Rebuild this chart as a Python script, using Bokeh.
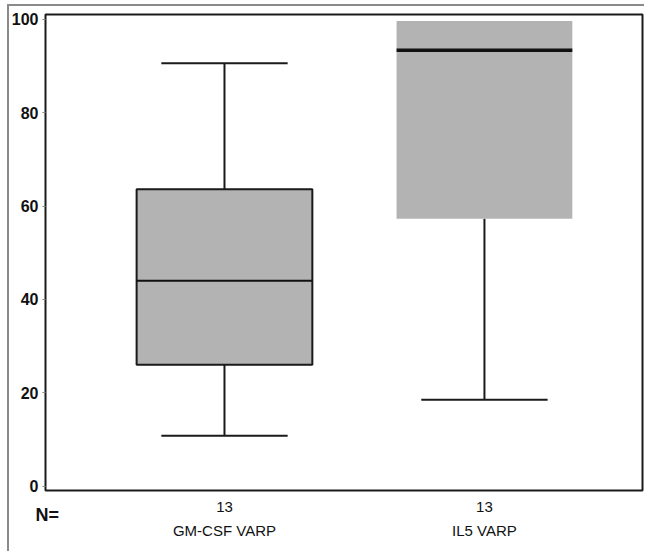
from bokeh.plotting import figure
from bokeh.models import FixedTicker, LinearAxis, Label, Range1d, ColumnDataSource
from bokeh.embed import file_html
from bokeh.resources import INLINE

categories = ["GM-CSF VARP", "IL5 VARP"]
n_values = [13, 13]
lower_whisker = [10.8, 18.5]
q1 = [26.0, 57.3]
median = [44.0, 93.4]
q3 = [63.6, 99.7]
upper_whisker = [90.6, 99.7]
y_ticks = [0, 20, 40, 60, 80, 100]

xs = [i + 1 for i in range(len(categories))]
box_half = 0.338
cap_half = 0.243
FONT = "Liberation Sans"

frame_css = {
    "background-color": "white",
    "background-image": "linear-gradient(#8a8a8a,#8a8a8a), linear-gradient(#8a8a8a,#8a8a8a)",
    "background-size": "100% 2px, 2px 100%",
    "background-position": "7px 4px, 7px 4px",
    "background-repeat": "no-repeat",
}

p = figure(width=644, height=551,
           x_range=Range1d(0.3115, 2.608), y_range=Range1d(-0.96, 101.07),
           output_backend="svg", toolbar_location=None,
           min_border_left=45, min_border_top=14, min_border_right=2, min_border_bottom=61,
           styles=frame_css)
p.grid.visible = False
p.outline_line_color = "#1a1a1a"
p.outline_line_width = 2
p.background_fill_color = "white"
p.border_fill_color = None

src = ColumnDataSource(dict(
    x=xs,
    left=[x - box_half for x in xs],
    right=[x + box_half for x in xs],
    q1=q1, q3=q3, med=median, lo=lower_whisker, hi=upper_whisker,
    line_alpha=[1.0, 0.0],
    med_w=[2, 3.5],
))

# whiskers
p.segment(x0="x", y0="q3", x1="x", y1="hi", source=src, line_color="#1a1a1a", line_width=2)
p.segment(x0="x", y0="q1", x1="x", y1="lo", source=src, line_color="#1a1a1a", line_width=2)
# boxes
p.quad(left="left", right="right", bottom="q1", top="q3", source=src,
       fill_color="#b3b3b3", line_color="#1a1a1a", line_width=2, line_alpha="line_alpha")
# medians
p.segment(x0="left", y0="med", x1="right", y1="med", source=src, line_color="#111111", line_width="med_w")
# caps
p.segment(x0=[x - cap_half for x in xs], y0=lower_whisker, x1=[x + cap_half for x in xs], y1=lower_whisker,
          line_color="#1a1a1a", line_width=2)
up_x = [x for x, h, t in zip(xs, upper_whisker, q3) if h > t]
up_y = [h for h, t in zip(upper_whisker, q3) if h > t]
p.segment(x0=[x - cap_half for x in up_x], y0=up_y, x1=[x + cap_half for x in up_x], y1=up_y,
          line_color="#1a1a1a", line_width=2)

# y axis
p.yaxis.ticker = FixedTicker(ticks=y_ticks)
p.yaxis.axis_line_color = None
p.yaxis.major_tick_out = 3
p.yaxis.major_tick_in = 0
p.yaxis.major_tick_line_color = "#888888"
p.yaxis.minor_tick_line_color = None
p.yaxis.major_label_text_font = FONT
p.yaxis.major_label_text_font_style = "bold"
p.yaxis.major_label_text_font_size = "16px"
p.yaxis.major_label_text_color = "#111111"
p.yaxis.major_label_standoff = 4

# x axis: N values
xa = p.xaxis[0]
xa.ticker = FixedTicker(ticks=xs)
xa.major_label_overrides = {x: str(n) for x, n in zip(xs, n_values)}
xa.axis_line_color = None
xa.major_tick_line_color = None
xa.minor_tick_line_color = None
xa.major_tick_out = 0
xa.major_label_standoff = -9
xa.major_label_text_font = FONT
xa.major_label_text_font_size = "15px"
xa.major_label_text_color = "#111111"

# x axis: category names
xb = LinearAxis(ticker=FixedTicker(ticks=xs),
                major_label_overrides={x: c for x, c in zip(xs, categories)})
xb.axis_line_color = None
xb.major_tick_line_color = None
xb.minor_tick_line_color = None
xb.major_tick_out = 0
xb.major_label_standoff = 7
xb.major_label_text_font = FONT
xb.major_label_text_font_size = "15px"
xb.major_label_text_color = "#111111"
p.add_layout(xb, "below")

n_label = Label(x=-10, y=-4, x_units="screen", y_units="screen", text="N=",
                text_font=FONT, text_font_style="bold", text_font_size="18px",
                text_color="#111111", text_baseline="middle")
p.below.insert(0, n_label)

open("out.html", "w").write(file_html(p, INLINE))
